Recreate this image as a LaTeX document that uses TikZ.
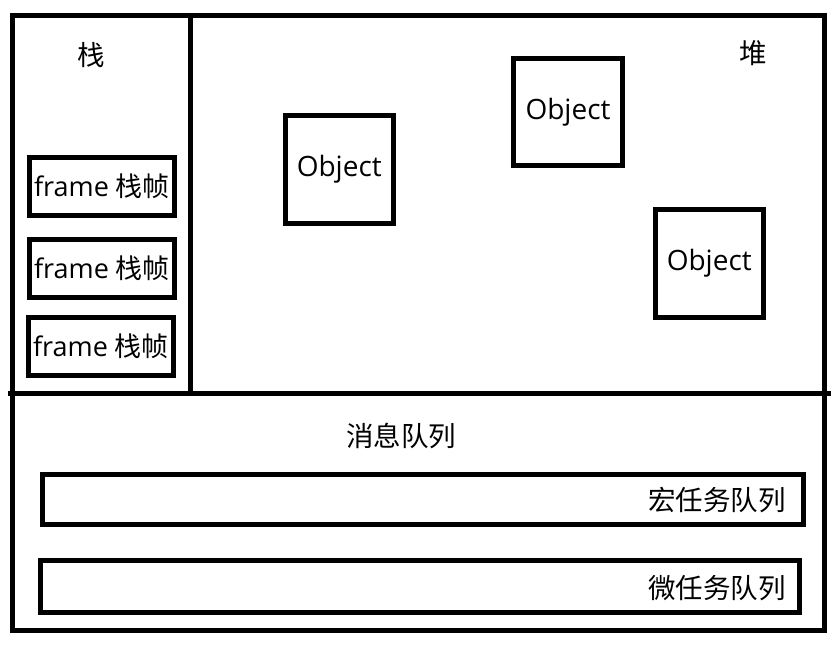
\documentclass[tikz,border=0pt]{standalone}
\usepackage{fontspec}
\setmainfont{Open Sans}
\newfontfamily\cjk{Noto Sans CJK SC}
\begin{document}
\begin{tikzpicture}[x=1pt,y=-1pt,
  thick line/.style={line width=5pt},
  txt/.style={font=\fontsize{27.5}{32}\selectfont, inner sep=0pt},
  framebox/.style={draw, line width=5pt, minimum width=145pt, minimum height=58pt, inner sep=0pt, font=\fontsize{27}{32}\selectfont},
  objbox/.style={draw, line width=5pt, minimum width=108.5pt, minimum height=107.5pt, inner sep=0pt, font=\fontsize{28}{32}\selectfont},
  qbox/.style={draw, line width=5pt, inner sep=0pt}
]
\useasboundingbox (0,0) rectangle (839,649);
% outer frame
\draw[thick line] (12,15.5) rectangle (824.5,630);
\coordinate (hl) at (8,393);
\coordinate (hr) at (831,393);
\draw[thick line] (hl) -- (hr);
\coordinate (vt) at (190.5,15.5);
\coordinate (vb) at (190.5,393);
\draw[thick line] (vt) -- (vb);
% labels
\node[txt] (stack) at (91,55) {\cjk 栈};
\node[txt] (heap) at (753,53) {\cjk 堆};
\node[txt] (mq) at (401,436) {\cjk 消息队列};
% frames
\node[framebox] (f1) at (102,186.5) {frame {\cjk 栈帧}};
\node[framebox] (f2) at (102,268.5) {frame {\cjk 栈帧}};
\node[framebox] (f3) at (101,346.5) {frame {\cjk 栈帧}};
% objects
\node[objbox] (o1) at (339.25,169.5) {Object};
\node[objbox] (o2) at (568,112.2) {Object};
\node[objbox] (o3) at (709.25,263.25) {Object};
% queues
\node[qbox, minimum width=761pt, minimum height=50pt] (macro) at (423,499.5) {};
\node[qbox, minimum width=759pt, minimum height=52pt] (micro) at (420,586.5) {};
\node[txt, anchor=east] (macrot) at (786,500) {\cjk 宏任务队列};
\node[txt, anchor=east] (microt) at (786,588) {\cjk 微任务队列};
\end{tikzpicture}
\end{document}
